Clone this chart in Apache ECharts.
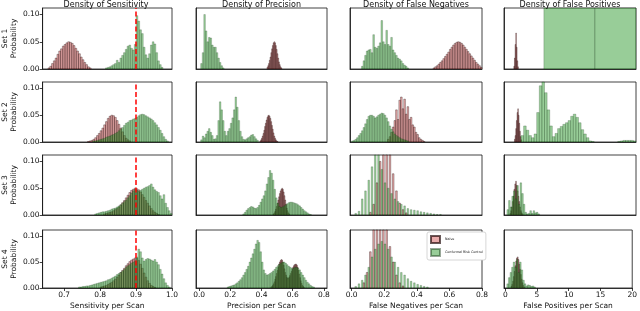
<!DOCTYPE html>
<html><head><meta charset="utf-8">
<script src="https://cdn.jsdelivr.net/npm/echarts/dist/echarts.min.js"></script>
<style>html,body{margin:0;padding:0;background:#fff}#c{width:640px;height:311px}</style>
</head><body><div id="c"></div><script>
// ---------- data ----------
const columnTitles = ['Density of Sensitivity','Density of Precision','Density of False Negatives','Density of False Positives'];
const columnXNames = ['Sensitivity per Scan','Precision per Scan','False Negatives per Scan','False Positives per Scan'];
const columnXMin = [0.64, -0.02, -0.01, -0.2];
const columnXMax = [1.0, 0.82, 0.8, 20];
const columnXTicks = [[0.7,0.8,0.9,1.0],[0,0.2,0.4,0.6,0.8],[0,0.2,0.4,0.6,0.8],[0,5,10,15,20]];
const rowNames = ['Set 1','Set 2','Set 3','Set 4'];
const yTicks = [0, 0.05, 0.10];
const yMax = 0.112;
const targetSensitivity = 0.9;
const seriesNames = ['Naive','Conformal Risk Control'];

// histograms: values per bin (bin start / bin width given alongside)
const sensNaive1 = [0.002,0.005,0.01,0.015,0.02,0.027,0.033,0.037,0.042,0.045,0.048,0.05,0.049,0.047,0.043,0.038,0.033,0.028,0.022,0.017,0.012,0.008,0.004,0.002];
const sensCRC1 = [0.002,0.003,0.004,0.006,0.008,0.01,0.016,0.012,0.02,0.025,0.03,0.036,0.042,0.044,0.038,0.035,0.045,0.098,0.088,0.072,0.065,0.04,0.026,0.02,0.028,0.044,0.05,0.046,0.03,0.015,0.008,0.003];
const precNaive1 = [0.003,0.006,0.01,0.016,0.022,0.03,0.037,0.043,0.048,0.05,0.048,0.043,0.036,0.028,0.02,0.013,0.008,0.004,0.002];
const precCRC1 = [0.01,0.03,0.10,0.07,0.05,0.058,0.057,0.044,0.04,0.04,0.03,0.02,0.012,0.006,0.002];
const fnNaive1 = [0.002,0.004,0.006,0.009,0.012,0.015,0.019,0.023,0.027,0.031,0.036,0.04,0.044,0.047,0.049,0.05,0.049,0.047,0.044,0.04,0.036,0.032,0.028,0.024,0.02,0.016,0.012,0.009,0.006,0.003];
const fnCRC1 = [0.005,0.015,0.025,0.033,0.035,0.036,0.03,0.063,0.04,0.038,0.042,0.048,0.089,0.05,0.045,0.071,0.045,0.042,0.058,0.035,0.03,0.025,0.02,0.018,0.015,0.01,0.007,0.005,0.002];
const fpNaive1 = [0.005,0.02,0.045,0.066,0.04,0.015,0.004];
const fpCRC1 = [0.6,0.4];

const sensNaive2 = [0.001,0.002,0.003,0.005,0.008,0.012,0.016,0.021,0.026,0.032,0.038,0.044,0.048,0.05,0.049,0.046,0.04,0.033,0.026,0.019,0.012,0.007,0.004,0.002];
const sensCRC2 = [0.002,0.002,0.003,0.004,0.005,0.006,0.007,0.009,0.01,0.011,0.013,0.014,0.016,0.018,0.021,0.024,0.027,0.031,0.035,0.037,0.04,0.041,0.043,0.044,0.046,0.049,0.051,0.052,0.051,0.049,0.047,0.045,0.043,0.04,0.036,0.032,0.027,0.022,0.016,0.01,0.005,0.002];
const precNaive2 = [0.002,0.004,0.007,0.011,0.016,0.022,0.029,0.035,0.041,0.046,0.049,0.05,0.048,0.044,0.038,0.031,0.024,0.017,0.011,0.007,0.004,0.002,0.001];
const precCRC2 = [0.004,0.011,0.008,0.015,0.02,0.025,0.018,0.012,0.005,0.006,0.012,0.04,0.075,0.06,0.04,0.02,0.012,0.02,0.025,0.035,0.045,0.06,0.084,0.065,0.04,0.02,0.01,0.005,0.004,0.006,0.008,0.01,0.013,0.014,0.01,0.006,0.003];
const fnNaive2 = [0.005,0.01,0.018,0.028,0.04,0.06,0.042,0.078,0.084,0.062,0.08,0.052,0.066,0.042,0.046,0.032,0.028,0.018,0.014,0.008,0.005,0.003,0.001];
const fnCRC2 = [0.002,0.003,0.005,0.008,0.012,0.016,0.021,0.027,0.034,0.042,0.048,0.05,0.05,0.048,0.045,0.047,0.05,0.052,0.054,0.053,0.05,0.045,0.038,0.03,0.024,0.019,0.015,0.012,0.01,0.008,0.006,0.005,0.004,0.003,0.002];
const fpNaive2 = [0.005,0.012,0.025,0.04,0.055,0.062,0.05,0.035,0.02,0.01,0.004];
const fpCRC2 = [0.012,0.03,0.022,0.012,0.008,0.015,0.055,0.105,0.13,0.092,0.06,0.03,0.01,0.016,0.025,0.029,0.033,0.036,0.04,0.048,0.052,0.046,0.036,0.023,0.015,0.008,0.002,0.001,0,0,0,0,0,0,0,0,0,0.001,0.002,0.003,0.003,0.003,0.003,0.002];

const sensNaive3 = [0.002,0.003,0.004,0.005,0.006,0.008,0.01,0.012,0.015,0.019,0.023,0.027,0.032,0.037,0.042,0.046,0.048,0.05,0.049,0.047,0.043,0.038,0.033,0.027,0.022,0.017,0.012,0.008,0.005,0.003,0.001];
const sensCRC3 = [0.002,0.003,0.004,0.005,0.006,0.006,0.007,0.008,0.009,0.011,0.012,0.013,0.015,0.017,0.019,0.022,0.025,0.028,0.032,0.036,0.041,0.045,0.048,0.046,0.044,0.046,0.048,0.05,0.052,0.053,0.055,0.058,0.052,0.047,0.044,0.042,0.036,0.03,0.038,0.022,0.014,0.008,0.003];
const precNaive3 = [0.002,0.004,0.007,0.011,0.016,0.022,0.028,0.034,0.04,0.045,0.048,0.05,0.048,0.043,0.036,0.028,0.02,0.013,0.008,0.004,0.002];
const precCRC3 = [0.002,0.005,0.009,0.012,0.014,0.016,0.015,0.013,0.012,0.014,0.018,0.024,0.03,0.036,0.045,0.058,0.07,0.083,0.078,0.065,0.048,0.032,0.022,0.016,0.014,0.015,0.017,0.019,0.021,0.023,0.024,0.024,0.023,0.022,0.021,0.019,0.017,0.014,0.011,0.008,0.006,0.004,0.002,0.001];
const fnNaive3 = [0.005,0,0.02,0,0.06,0,0.1,0,0.12,0,0.13,0,0.13,0,0.077,0,0.045,0,0.022,0,0.01,0,0.004];
const fnCRC3 = [0.003,0,0.007,0,0.03,0,0.045,0,0.065,0,0.09,0,0.13,0,0.13,0,0.085,0,0.06,0,0.05,0,0.04,0,0.03,0,0.025,0,0.02,0,0.017,0,0.012,0,0.01,0,0.009,0,0.008,0,0.006,0,0.005,0,0.004,0,0.003,0,0.002,0,0.001,0,0.001];
const fpNaive3 = [0.003,0.008,0.015,0.025,0.035,0.048,0.058,0.063,0.055,0.045,0.035,0.025,0.015,0.008,0.004,0.002];
const fpCRC3 = [0.01,0.027,0.015,0.035,0.045,0.03,0.055,0.02,0.06,0.04,0.02,0.005,0.002,0.003,0.008,0.003,0.008,0.004,0.005,0.002];

const sensNaive4 = [0.002,0.003,0.004,0.005,0.007,0.009,0.011,0.014,0.017,0.021,0.025,0.03,0.034,0.038,0.043,0.047,0.051,0.054,0.056,0.058,0.057,0.053,0.046,0.038,0.029,0.021,0.014,0.009,0.005,0.003,0.001];
const sensCRC4 = [0.002,0.002,0.003,0.003,0.004,0.004,0.005,0.006,0.007,0.008,0.009,0.01,0.011,0.012,0.013,0.014,0.016,0.017,0.019,0.021,0.023,0.026,0.028,0.03,0.033,0.036,0.04,0.043,0.045,0.048,0.05,0.052,0.06,0.075,0.07,0.058,0.052,0.055,0.057,0.056,0.054,0.052,0.055,0.05,0.045,0.036,0.027,0.018,0.01,0.005,0.002];
const precNaive4 = [0.002,0.003,0.005,0.008,0.012,0.017,0.022,0.028,0.034,0.04,0.046,0.05,0.053,0.055,0.054,0.05,0.044,0.037,0.03,0.025,0.021,0.019,0.019,0.021,0.024,0.028,0.032,0.036,0.04,0.043,0.045,0.046,0.046,0.044,0.04,0.034,0.027,0.02,0.014,0.009,0.005,0.003,0.001];
const precCRC4 = [0.002,0.003,0.004,0.005,0.006,0.008,0.01,0.013,0.016,0.02,0.025,0.03,0.036,0.042,0.05,0.058,0.066,0.075,0.085,0.092,0.088,0.07,0.05,0.035,0.028,0.025,0.026,0.028,0.03,0.033,0.036,0.04,0.043,0.046,0.048,0.05,0.05,0.048,0.045,0.042,0.04,0.038,0.038,0.04,0.04,0.038,0.035,0.03,0.025,0.02,0.015,0.011,0.008,0.005,0.003,0.002];
const fnNaive4 = [0.01,0,0.03,0,0.07,0,0.12,0,0.13,0,0.13,0,0.13,0,0.12,0,0.08,0,0.05,0,0.025,0,0.01,0,0.004];
const fnCRC4 = [0.003,0,0.008,0,0.015,0,0.025,0,0.04,0,0.06,0,0.075,0,0.085,0,0.09,0,0.085,0,0.075,0,0.06,0,0.05,0,0.04,0,0.03,0,0.025,0,0.018,0,0.013,0,0.01,0,0.007,0,0.005,0,0.003,0,0.002];
const fpNaive4 = [0.003,0.007,0.013,0.022,0.032,0.043,0.052,0.058,0.06,0.055,0.046,0.036,0.026,0.017,0.01,0.005,0.002];
const fpCRC4 = [0.008,0.02,0.03,0.04,0.05,0.04,0.055,0.03,0.05,0.035,0.015,0.008,0.004,0.006,0.005,0.003,0.004,0.002];

// [row, col, which(0 naive / 1 CRC), first bin start, bin width, values]
const histograms = [
  [0,0,0,0.655,0.005,sensNaive1],[0,0,1,0.815,0.005,sensCRC1],
  [0,1,0,0.435,0.005,precNaive1],[0,1,1,0.01,0.01,precCRC1],
  [0,2,0,0.50,0.01,fnNaive1],[0,2,1,0.06,0.01,fnCRC1],
  [0,3,0,1.3,0.1,fpNaive1],[0,3,1,5.9,7.8,fpCRC1],
  [1,0,0,0.765,0.005,sensNaive2],[1,0,1,0.78,0.005,sensCRC2],
  [1,1,0,0.39,0.005,precNaive2],[1,1,1,0.01,0.01,precCRC2],
  [1,2,0,0.22,0.01,fnNaive2],[1,2,1,0.0,0.01,fnCRC2],
  [1,3,0,1.4,0.1,fpNaive2],[1,3,1,2.4,0.4,fpCRC2],
  [2,0,0,0.81,0.005,sensNaive3],[2,0,1,0.785,0.005,sensCRC3],
  [2,1,0,0.475,0.005,precNaive3],[2,1,1,0.28,0.01,precCRC3],
  [2,2,0,0.11,0.01,fnNaive3],[2,2,1,0.02,0.01,fnCRC3],
  [2,3,0,0.7,0.125,fpNaive3],[2,3,1,0.25,0.25,fpCRC3],
  [3,0,0,0.80,0.005,sensNaive4],[3,0,1,0.74,0.005,sensCRC4],
  [3,1,0,0.46,0.005,precNaive4],[3,1,1,0.18,0.01,precCRC4],
  [3,2,0,0.07,0.01,fnNaive4],[3,2,1,0.02,0.01,fnCRC4],
  [3,3,0,0.9,0.125,fpNaive4],[3,3,1,0.25,0.25,fpCRC4]
];

// ---------- layout & style ----------
const colLeft = [40, 196, 350, 504];
const colWidth = [132, 131, 132, 132];
const rowTop = [8, 82, 155, 230];
const rowHeight = [61, 60, 60, 60];
const FONT = 'DejaVu Sans';
const fills = ['rgba(210,85,85,0.5)', 'rgba(50,155,50,0.5)'];
const strokes = ['rgba(25,0,0,0.65)', 'rgba(0,35,0,0.4)'];

const grids = [], xAxes = [], yAxes = [], series = [], titles = [];
for (let r = 0; r < 4; r++) {
  for (let c = 0; c < 4; c++) {
    const gi = r * 4 + c;
    const bottom = r === 3;
    grids.push({left: colLeft[c], top: rowTop[r], width: colWidth[c], height: rowHeight[r],
      show: true, borderColor: '#111', borderWidth: 0.8, backgroundColor: 'transparent', containLabel: false});
    xAxes.push({type: 'value', gridIndex: gi, min: columnXMin[c], max: columnXMax[c], z: 5,
      axisLine: {show: true, onZero: false, lineStyle: {color: '#111', width: 0.8}},
      axisTick: {show: bottom, customValues: columnXTicks[c], length: 3, lineStyle: {color: '#111', width: 0.8}},
      axisLabel: {show: bottom, customValues: columnXTicks[c], fontFamily: FONT, fontSize: 7.5, color: '#111', margin: 3,
        formatter: v => c === 3 ? String(Math.round(v)) : v.toFixed(1)},
      splitLine: {show: false},
      name: bottom ? columnXNames[c] : '', nameLocation: 'middle', nameGap: 14,
      nameTextStyle: {fontFamily: FONT, fontSize: 7.5, color: '#111'}});
    yAxes.push({type: 'value', gridIndex: gi, min: 0, max: yMax, z: 5,
      axisLine: {show: true, onZero: false, lineStyle: {color: '#111', width: 0.8}},
      axisTick: {show: c === 0, customValues: yTicks, length: 3, lineStyle: {color: '#111', width: 0.8}},
      axisLabel: {show: c === 0, customValues: yTicks, fontFamily: FONT, fontSize: 7.5, color: '#111', margin: 3,
        formatter: v => v.toFixed(2)},
      splitLine: {show: false},
      name: c === 0 ? rowNames[r] + '\nProbability' : '', nameLocation: 'middle', nameGap: 22, nameRotate: 90,
      nameTextStyle: {fontFamily: FONT, fontSize: 7.5, color: '#111', lineHeight: 9}});
  }
}
for (let c = 0; c < 4; c++) {
  titles.push({text: columnTitles[c], left: colLeft[c] + colWidth[c] / 2, top: 1, textAlign: 'center', padding: 0,
    textStyle: {fontFamily: FONT, fontSize: 8, fontWeight: 'normal', color: '#111'}});
}

function makeRender(fill, stroke) {
  return function (params, api) {
    const x0 = api.value(0), x1 = api.value(1), h = api.value(2);
    if (!(h > 0)) return null;
    const a = api.coord([x0, h]);
    const b = api.coord([x1, 0]);
    const cs = params.coordSys;
    const rect = echarts.graphic.clipRectByRect(
      {x: a[0], y: a[1], width: b[0] - a[0], height: b[1] - a[1]},
      {x: cs.x, y: cs.y, width: cs.width, height: cs.height});
    if (!rect) return null;
    return {type: 'rect', shape: rect, style: {fill: fill, stroke: stroke, lineWidth: 0.5}};
  };
}

// draw naive first, CRC on top
for (const which of [0, 1]) {
  histograms.filter(h => h[2] === which).forEach(h => {
    const [r, c, w, start, width, vals] = h;
    const gi = r * 4 + c;
    const data = vals.map((v, i) => [start + i * width, start + (i + 1) * width, v]);
    series.push({type: 'custom', name: seriesNames[w], xAxisIndex: gi, yAxisIndex: gi,
      renderItem: makeRender(fills[w], strokes[w]), encode: {x: [0, 1], y: 2},
      itemStyle: {color: fills[w], borderColor: strokes[w], borderWidth: 0.5},
      data: data, z: 2 + w, silent: true, animation: false});
  });
}
// target sensitivity reference line
for (let r = 0; r < 4; r++) {
  const gi = r * 4;
  series.push({type: 'line', xAxisIndex: gi, yAxisIndex: gi, data: [], z: 6, silent: true,
    markLine: {silent: true, symbol: 'none', animation: false, label: {show: false},
      lineStyle: {color: '#ff0000', type: [5, 2.5], width: 1.5},
      data: [{xAxis: targetSensitivity}]}});
}

const chart = echarts.init(document.getElementById('c'), null, {renderer: 'canvas'});
chart.setOption({
  animation: false,
  backgroundColor: '#fff',
  title: titles,
  grid: grids, xAxis: xAxes, yAxis: yAxes, series: series,
  legend: {data: [{name: 'Naive', icon: 'rect'}, {name: 'Conformal Risk Control', icon: 'rect'}],
    orient: 'vertical', left: 427, top: 232, itemWidth: 9, itemHeight: 7, itemGap: 4, itemGap: 4,
    padding: [3, 3, 3, 3], backgroundColor: '#fff', borderColor: '#ccc', borderWidth: 0.8, borderRadius: 2,
    textStyle: {fontFamily: FONT, fontSize: 3.3, color: '#111'}, selectedMode: false, z: 10}
});
</script></body></html>
